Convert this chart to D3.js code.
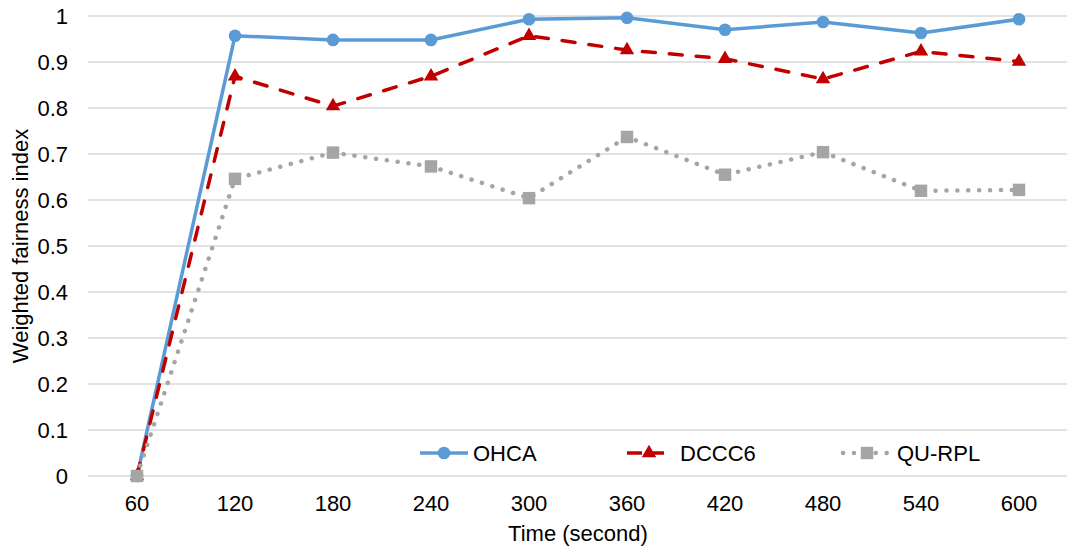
<!DOCTYPE html>
<html><head><meta charset="utf-8">
<script src="https://cdn.jsdelivr.net/npm/d3@7"></script>
<style>body{margin:0;background:#fff}svg{display:block}text{font-family:"Liberation Sans",Arial,sans-serif}</style>
</head><body><svg id="c" width="1067" height="547"></svg>
<script>
const categories = ["60","120","180","240","300","360","420","480","540","600"];
const ohca = [0,0.957,0.948,0.948,0.993,0.996,0.970,0.987,0.963,0.993];
const dccc6 = [0,0.869,0.804,0.869,0.957,0.926,0.907,0.863,0.923,0.901];
const qurpl = [0,0.646,0.703,0.673,0.604,0.737,0.655,0.704,0.620,0.622];
const yTicks = [0,0.1,0.2,0.3,0.4,0.5,0.6,0.7,0.8,0.9,1];
const seriesNames = ["OHCA","DCCC6","QU-RPL"];

const svg = d3.select("#c");
const L=88,R=1068,T=16,B=476;
const FS=22;
const x = d3.scaleBand().domain(categories).range([L,R]);
const y = d3.scaleLinear().domain([0,1]).range([B,T]);
const cx = d => x(d)+x.bandwidth()/2;

svg.append("g").selectAll("line").data(yTicks).join("line")
  .attr("x1",L).attr("x2",R).attr("y1",d=>y(d)).attr("y2",d=>y(d))
  .attr("stroke","#d9d9d9").attr("stroke-width",1.3);

const yAxis = d3.axisLeft(y).tickValues(yTicks).tickSize(0).tickPadding(0).tickFormat(d=>String(+d.toFixed(1)));
const gy = svg.append("g").attr("transform",`translate(${L-20},0)`).call(yAxis);
gy.select(".domain").remove();
gy.selectAll("text").attr("font-size",FS).attr("fill","#000").attr("dy","0.36em");

const xAxis = d3.axisBottom(x).tickSize(0).tickPadding(0);
const gx = svg.append("g").attr("transform",`translate(0,${B+27})`).call(xAxis);
gx.select(".domain").remove();
gx.selectAll("text").attr("font-size",FS).attr("fill","#000").attr("dy","0.36em");

svg.append("text").attr("x",578).attr("y",541).attr("text-anchor","middle").attr("font-size",FS).text("Time (second)");
svg.append("text").attr("transform",`translate(27.5,246) rotate(-90)`).attr("text-anchor","middle").attr("font-size",FS).text("Weighted fairness index");

const line = d3.line().x((d,i)=>cx(categories[i])).y(d=>y(d));
const series = [
  {name:seriesNames[0],vals:ohca,color:"#5b9bd5",dash:null,cap:"butt",marker:"circle",w:3.5},
  {name:seriesNames[1],vals:dccc6,color:"#c00000",dash:"13,14",cap:"round",marker:"triangle",w:3.5},
  {name:seriesNames[2],vals:qurpl,color:"#a5a5a5",dash:"0.1,10.8",cap:"round",marker:"square",w:4.5}
];
const sym = {circle:d3.symbolCircle,triangle:d3.symbolTriangle,square:d3.symbolSquare};
const size = {circle:125,triangle:90,square:155};

function marker(g,s,xx,yy){
  g.append("path").attr("d",d3.symbol().type(sym[s.marker]).size(size[s.marker])())
   .attr("transform",`translate(${xx},${yy})`).attr("fill",s.color);
}
series.forEach(s=>{
  svg.append("path").datum(s.vals).attr("d",line).attr("fill","none")
    .attr("stroke",s.color).attr("stroke-width",s.w)
    .attr("stroke-dasharray",s.dash).attr("stroke-linecap",s.cap).attr("stroke-linejoin","round");
});
series.forEach(s=>{
  const g=svg.append("g");
  s.vals.forEach((v,i)=>marker(g,s,cx(categories[i]),y(v)));
});

const legX=[420,627,843], legW=[48,44,48], legT=[473,680,897];
series.forEach((s,i)=>{
  const g=svg.append("g");
  const x0=legX[i], yy=453, w=legW[i];
  g.append("line").attr("x1",x0).attr("x2",x0+w).attr("y1",yy).attr("y2",yy)
    .attr("stroke",s.color).attr("stroke-width",s.w)
    .attr("stroke-dasharray",i===1?"15,7":s.dash).attr("stroke-linecap",i===1?"butt":s.cap);
  marker(g,s,x0+w/2,yy);
  g.append("text").attr("x",legT[i]).attr("y",yy).attr("dy","0.36em").attr("font-size",FS).text(s.name);
});
</script></body></html>
